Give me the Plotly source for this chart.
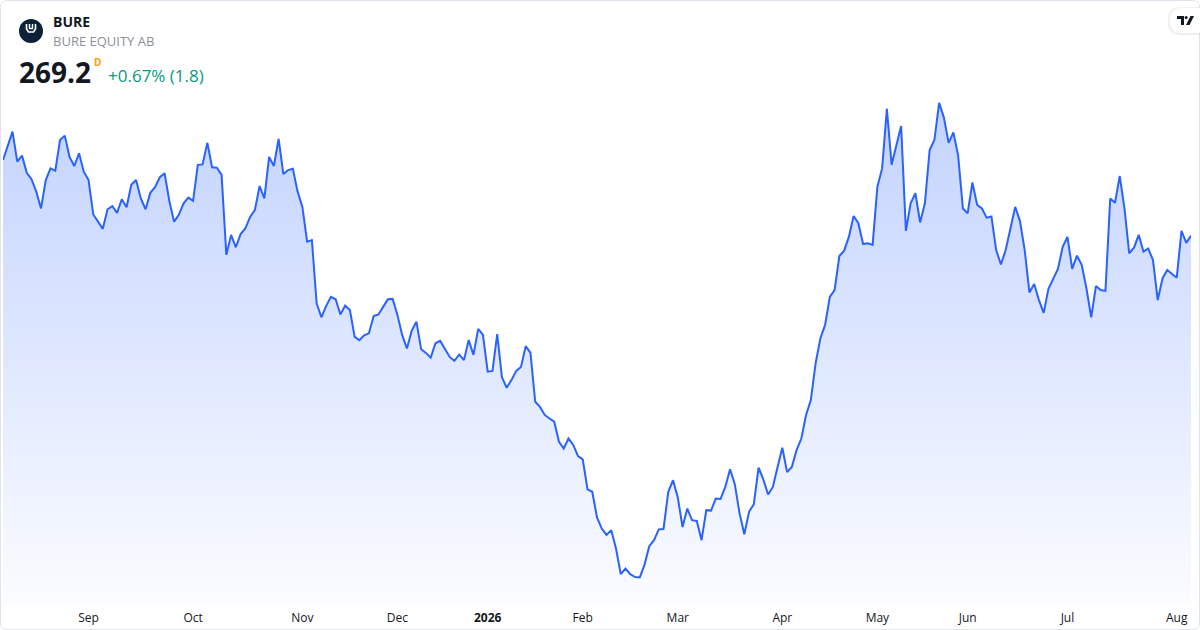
import plotly.graph_objects as go

symbol = "BURE"
company = "BURE EQUITY AB"

# daily closes (trading days, Aug 2025 -> Aug 2026)
prices = [
    288.1, 291.6, 295.2, 287.7, 289.2, 284.9, 283.3, 280.2, 276.0, 283.1,
    286.0, 285.4, 293.1, 294.2, 288.9, 286.6, 289.8, 285.2, 283.1, 274.5,
    272.7, 270.9, 275.8, 276.6, 274.9, 278.3, 276.3, 281.9, 283.1, 278.5,
    275.8, 279.9, 281.3, 283.8, 284.8, 277.9, 272.7, 274.4, 277.3, 278.7,
    277.9, 286.9, 287.0, 292.4, 286.3, 286.2, 284.4, 264.4, 269.4, 266.3,
    269.6, 271.0, 273.9, 275.6, 281.6, 278.5, 288.9, 286.6, 293.4, 284.6,
    285.6, 285.9, 280.2, 276.4, 267.7, 268.1, 252.3, 248.8, 251.6, 253.9,
    253.3, 249.5, 251.7, 250.6, 243.9, 243.1, 244.3, 244.8, 249.1, 249.5,
    251.4, 253.3, 253.4, 249.4, 244.4, 241.0, 245.4, 247.7, 240.8, 239.9,
    238.7, 242.3, 242.9, 241.0, 238.9, 237.9, 239.5, 238.1, 243.1, 239.4,
    245.9, 244.4, 235.2, 235.4, 244.6, 233.8, 231.2, 233.1, 235.4, 236.4,
    241.6, 239.9, 227.7, 226.4, 224.4, 223.5, 222.7, 217.7, 216.0, 218.5,
    216.9, 214.1, 213.3, 205.8, 205.2, 198.8, 196.0, 194.4, 195.6, 191.0,
    184.6, 186.0, 184.6, 183.9, 183.8, 187.0, 191.6, 193.1, 195.8, 195.9,
    205.2, 208.1, 203.8, 196.4, 201.0, 198.1, 197.9, 193.1, 200.6, 200.5,
    203.5, 203.4, 206.4, 210.8, 207.1, 199.8, 194.6, 200.2, 202.1, 211.2,
    208.3, 204.5, 206.4, 211.4, 216.2, 210.1, 211.4, 215.6, 218.5, 224.4,
    228.1, 237.3, 243.5, 246.9, 253.9, 255.6, 264.1, 265.4, 268.9, 274.1,
    272.3, 267.1, 267.3, 266.9, 281.4, 286.0, 300.9, 286.9, 291.9, 296.6,
    270.4, 277.3, 279.8, 272.5, 277.3, 290.6, 293.1, 302.4, 298.7, 292.4,
    295.0, 289.2, 276.0, 274.8, 282.5, 276.9, 276.0, 273.7, 274.0, 265.6,
    262.0, 265.6, 271.0, 276.4, 272.9, 265.6, 255.0, 257.1, 253.1, 249.9,
    255.9, 258.3, 260.9, 266.4, 268.9, 260.9, 264.2, 261.9, 256.0, 248.8,
    256.6, 255.6, 255.4, 278.5, 277.4, 284.1, 276.0, 264.8, 266.2, 269.4,
    265.2, 266.0, 263.1, 253.1, 258.5, 260.6, 259.6, 258.7, 270.4, 267.4,
    269.2,
]

# first trading day of each month (index into prices) and its label
tick_index = [18, 40, 63, 83, 102, 122, 142, 164, 184, 203, 224, 247]
tick_text = ["Sep", "Oct", "Nov", "Dec", "<b>2026</b>", "Feb", "Mar",
             "Apr", "May", "Jun", "Jul", "Aug"]

W, H = 1200, 630
ML, MR, MT, MB = 3, 9, 60, 27
PW, PH = W - ML - MR, H - MT - MB
y_bottom, y_top = 177.4, 313.1


def px(x):
    return (x - ML) / PW


def py(y):
    return 1 - (y - MT) / PH


def path(points, close=False):
    s = "M " + " L ".join(f"{px(x):.5f},{py(y):.5f}" for x, y in points)
    return s + (" Z" if close else "")


def rounded(x0, y0, x1, y1, r):
    s = f"M {px(x0 + r):.5f},{py(y0):.5f}"
    s += f" L {px(x1 - r):.5f},{py(y0):.5f} Q {px(x1):.5f},{py(y0):.5f} {px(x1):.5f},{py(y0 + r):.5f}"
    s += f" L {px(x1):.5f},{py(y1 - r):.5f} Q {px(x1):.5f},{py(y1):.5f} {px(x1 - r):.5f},{py(y1):.5f}"
    s += f" L {px(x0 + r):.5f},{py(y1):.5f} Q {px(x0):.5f},{py(y1):.5f} {px(x0):.5f},{py(y1 - r):.5f}"
    s += f" L {px(x0):.5f},{py(y0 + r):.5f} Q {px(x0):.5f},{py(y0):.5f} {px(x0 + r):.5f},{py(y0):.5f} Z"
    return s


last = prices[-1]
change = last - prices[-2]
change_pct = change / prices[-2] * 100

fig = go.Figure()
fig.add_trace(go.Scatter(
    x=list(range(len(prices))), y=prices, mode="lines",
    line=dict(color="#2962FF", width=2),
    fill="tozeroy",
    fillgradient=dict(type="vertical", start=y_bottom, stop=max(prices),
                      colorscale=[[0, "rgba(41,98,255,0.02)"],
                                  [1, "rgba(41,98,255,0.28)"]]),
    hoverinfo="y", showlegend=False,
))

fig.update_layout(
    width=W, height=H,
    margin=dict(l=ML, r=MR, t=MT, b=MB),
    paper_bgcolor="white", plot_bgcolor="white",
    font=dict(family="Open Sans, Noto Sans, sans-serif", color="#131722"),
    xaxis=dict(range=[0, len(prices) - 1], tickvals=tick_index, ticktext=tick_text,
               showgrid=False, zeroline=False, showline=False, ticks="",
               ticklabelstandoff=6,
               tickfont=dict(size=12, color="#131722")),
    yaxis=dict(range=[y_bottom, y_top], visible=False, showgrid=False),
)

shapes = [
    # card border
    dict(type="path", path=rounded(0.5, 0.5, 1199.5, 629.5, 7),
         line=dict(color="#e0e3eb", width=1), layer="above"),
    # symbol logo
    dict(type="circle", x0=px(19), x1=px(43), y0=py(19), y1=py(43),
         fillcolor="#0b2239", line=dict(width=0)),
    dict(type="path", path=path([(26.5, 24), (26.5, 29), (28.5, 32), (33.5, 32),
                                 (35.5, 29), (35.5, 24)]),
         line=dict(color="white", width=1.6)),
    dict(type="path", path=path([(29.5, 24), (29.5, 28.5), (32.5, 28.5), (32.5, 24)]),
         line=dict(color="white", width=1.4)),
    # TradingView badge
    dict(type="path", path=rounded(1168, 7, 1212, 35, 12),
         fillcolor="rgba(0,0,0,0.06)", line=dict(width=0)),
    dict(type="path", path=rounded(1170, 8, 1212, 33, 12),
         fillcolor="white", line=dict(width=0)),
    dict(type="path", path=path([(1177, 16), (1184, 16), (1184, 25), (1181, 25),
                                 (1181, 19), (1177, 19)], close=True),
         fillcolor="#131722", line=dict(width=0)),
    dict(type="circle", x0=px(1184.6), x1=px(1187.6), y0=py(16), y1=py(19),
         fillcolor="#131722", line=dict(width=0)),
    dict(type="path", path=path([(1190.5, 16), (1194, 16), (1189.5, 25), (1186, 25)], close=True),
         fillcolor="#131722", line=dict(width=0)),
]
for s in shapes:
    s.update(xref="paper", yref="paper")
fig.update_layout(shapes=shapes)

ann = [
    dict(text=f"<b>{symbol}</b>", x=px(51), y=py(21), font=dict(size=14, color="#131722")),
    dict(text=company, x=px(51), y=py(41), font=dict(size=13, color="#8c8f98")),
    dict(text=f"<b>{last:.1f}</b>", x=px(17), y=py(72), font=dict(size=28, color="#131722")),
    dict(text="<b>D</b>", x=px(92), y=py(62), font=dict(size=10, color="#ff9800")),
    dict(text=f"+{change_pct:.2f}% ({change:.1f})", x=px(106), y=py(75),
         font=dict(size=17, color="#089981")),
]
for a in ann:
    a.update(xref="paper", yref="paper", xanchor="left", yanchor="middle", showarrow=False)
fig.update_layout(annotations=ann)

fig.write_html("out.html", config={"displayModeBar": False},
               post_script="document.body.style.margin='0';")
